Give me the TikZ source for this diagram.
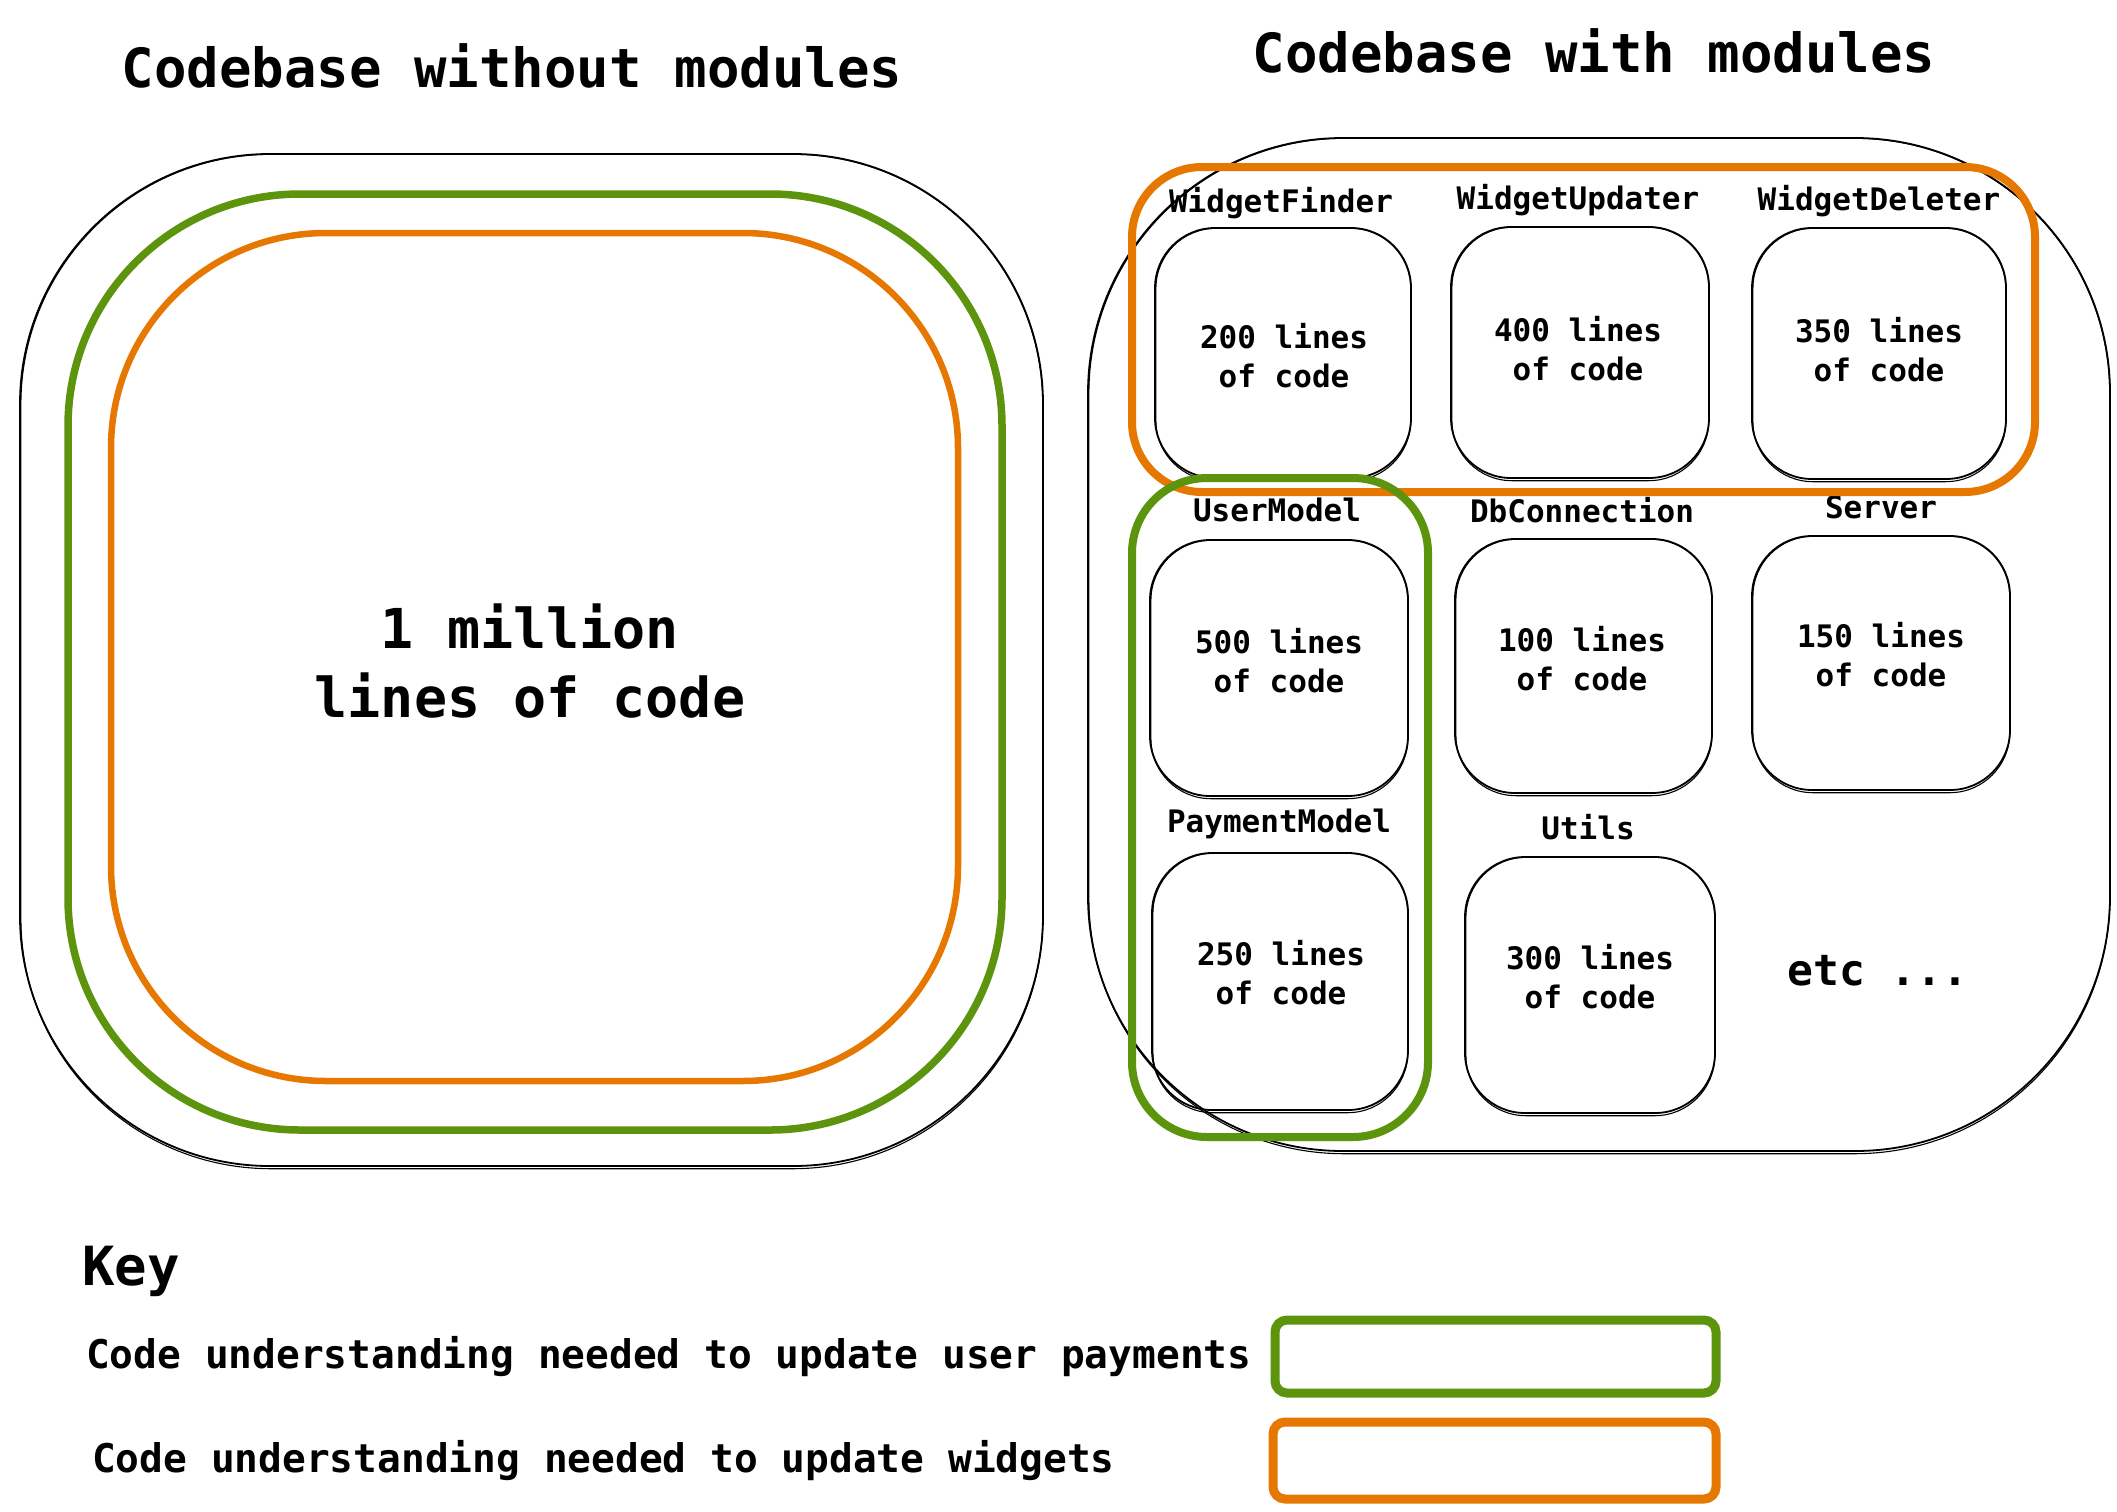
\documentclass[tikz,border=0pt]{standalone}
\usepackage{fontspec}
\setmainfont{DejaVu Sans Mono}
\definecolor{kgreen}{HTML}{5C940D}
\definecolor{korange}{HTML}{E67700}
\newcommand\skagain[2]{\draw[blk2, rounded corners=#2] ([shift={(1.8,1.2)}]#1.north west) rectangle ([shift={(-1.2,1.8)}]#1.south east);}
\begin{document}
\begin{tikzpicture}[x=1pt,y=-1pt,
  blk/.style={draw=black, line width=1.8pt, inner sep=0pt},
  blk2/.style={draw=black, line width=1.1pt},
  modbox/.style={blk, rounded corners=60pt},
  grn/.style={draw=kgreen, line width=7.5pt, inner sep=0pt},
  org/.style={draw=korange, line width=7pt, inner sep=0pt},
  title/.style={font=\fontsize{54}{64}\selectfont\bfseries, anchor=base, inner sep=0pt},
  lbl/.style={font=\fontsize{31}{39}\selectfont\bfseries, inner sep=0pt},
  body/.style={font=\fontsize{31}{39}\selectfont\bfseries, align=center, inner sep=0pt},
  keytxt/.style={font=\fontsize{39.5}{46}\selectfont\bfseries, anchor=base west, inner sep=0pt}]
\useasboundingbox (0,0) rectangle (2117,1512);
\fill[white] (0,0) rectangle (2117,1512);

% titles
\node[title] (t1) at (512,87) {Codebase without modules};
\node[title] (t2) at (1594,73) {Codebase with modules};

% left: codebase without modules
\node[blk, rounded corners=250pt, minimum width=1023pt, minimum height=1012pt] (lout) at (531.5,660) {};
\skagain{lout}{250pt}
\node[grn, rounded corners=232pt, minimum width=934pt, minimum height=936pt] (lgrn) at (535,662) {};
\node[org, line width=6.5pt, rounded corners=215pt, minimum width=847pt, minimum height=848pt] (lorg) at (534.5,657) {};
\node[font=\fontsize{55}{69}\selectfont\bfseries, align=center, inner sep=0pt] (lmil) at (530,661) {1 million\\lines of code};

% right: codebase with modules
\node[blk, rounded corners=255pt, minimum width=1022pt, minimum height=1013pt] (rout) at (1599,644.5) {};
\skagain{rout}{255pt}

% module boxes
\node[modbox, minimum width=256pt, minimum height=250pt] (wf) at (1283,353) {};
\node[modbox, minimum width=258pt, minimum height=251pt] (wu) at (1580,352.5) {};
\node[modbox, minimum width=254pt, minimum height=251pt] (wd) at (1879,353.5) {};
\node[modbox, minimum width=258pt, minimum height=256pt] (um) at (1279,668) {};
\node[modbox, minimum width=257pt, minimum height=254pt] (db) at (1583.5,666) {};
\node[modbox, minimum width=258pt, minimum height=254pt] (sv) at (1881,663) {};
\node[modbox, minimum width=256pt, minimum height=257pt] (pm) at (1280,981.5) {};
\node[modbox, minimum width=250pt, minimum height=256pt] (ut) at (1590,985) {};
\foreach \b in {wf,wu,wd,um,db,sv,pm,ut}{\skagain{\b}{60pt}}

% module labels
\node[lbl] (wfl) at (1281,203) {WidgetFinder};
\node[lbl] (wul) at (1578,200) {WidgetUpdater};
\node[lbl] (wdl) at (1879,201) {WidgetDeleter};
\node[lbl] (uml) at (1277,510) {UserModel};
\node[lbl] (dbl) at (1582,510) {DbConnection};
\node[lbl] (svl) at (1881,507) {Server};
\node[lbl] (pml) at (1279,824) {PaymentModel};
\node[lbl] (utl) at (1588,827) {Utils};

% module contents
\node[body] (wft) at (1284,356) {200 lines\\of code};
\node[body] (wut) at (1578,349) {400 lines\\of code};
\node[body] (wdt) at (1879,350) {350 lines\\of code};
\node[body] (umt) at (1279,660.5) {500 lines\\of code};
\node[body] (dbt) at (1582,659) {100 lines\\of code};
\node[body] (svt) at (1881,655) {150 lines\\of code};
\node[body] (pmt) at (1281,972.5) {250 lines\\of code};
\node[body] (utt) at (1590,976.5) {300 lines\\of code};
\node[font=\fontsize{43}{50}\selectfont\bfseries, inner sep=0pt] (etc) at (1878,971) {etc ...};

% coloured groupings on the right
\node[org, line width=8pt, rounded corners=70pt, minimum width=903pt, minimum height=325pt] (rorg) at (1583.5,329.5) {};
\node[grn, line width=8pt, rounded corners=75pt, minimum width=296pt, minimum height=659pt] (rgrn) at (1280,807.5) {};

% key
\node[font=\fontsize{54}{64}\selectfont\bfseries, anchor=base west, inner sep=0pt] (key) at (82,1285) {Key};
\node[keytxt] (k1) at (86,1368) {Code understanding needed to update user payments};
\node[keytxt] (k2) at (92,1472) {Code understanding needed to update widgets};
\node[grn, line width=9pt, rounded corners=12pt, minimum width=441pt, minimum height=73pt] (kg) at (1495.5,1356.5) {};
\node[org, line width=9pt, rounded corners=12pt, minimum width=443pt, minimum height=77pt] (ko) at (1494.5,1460.5) {};
\end{tikzpicture}
\end{document}
